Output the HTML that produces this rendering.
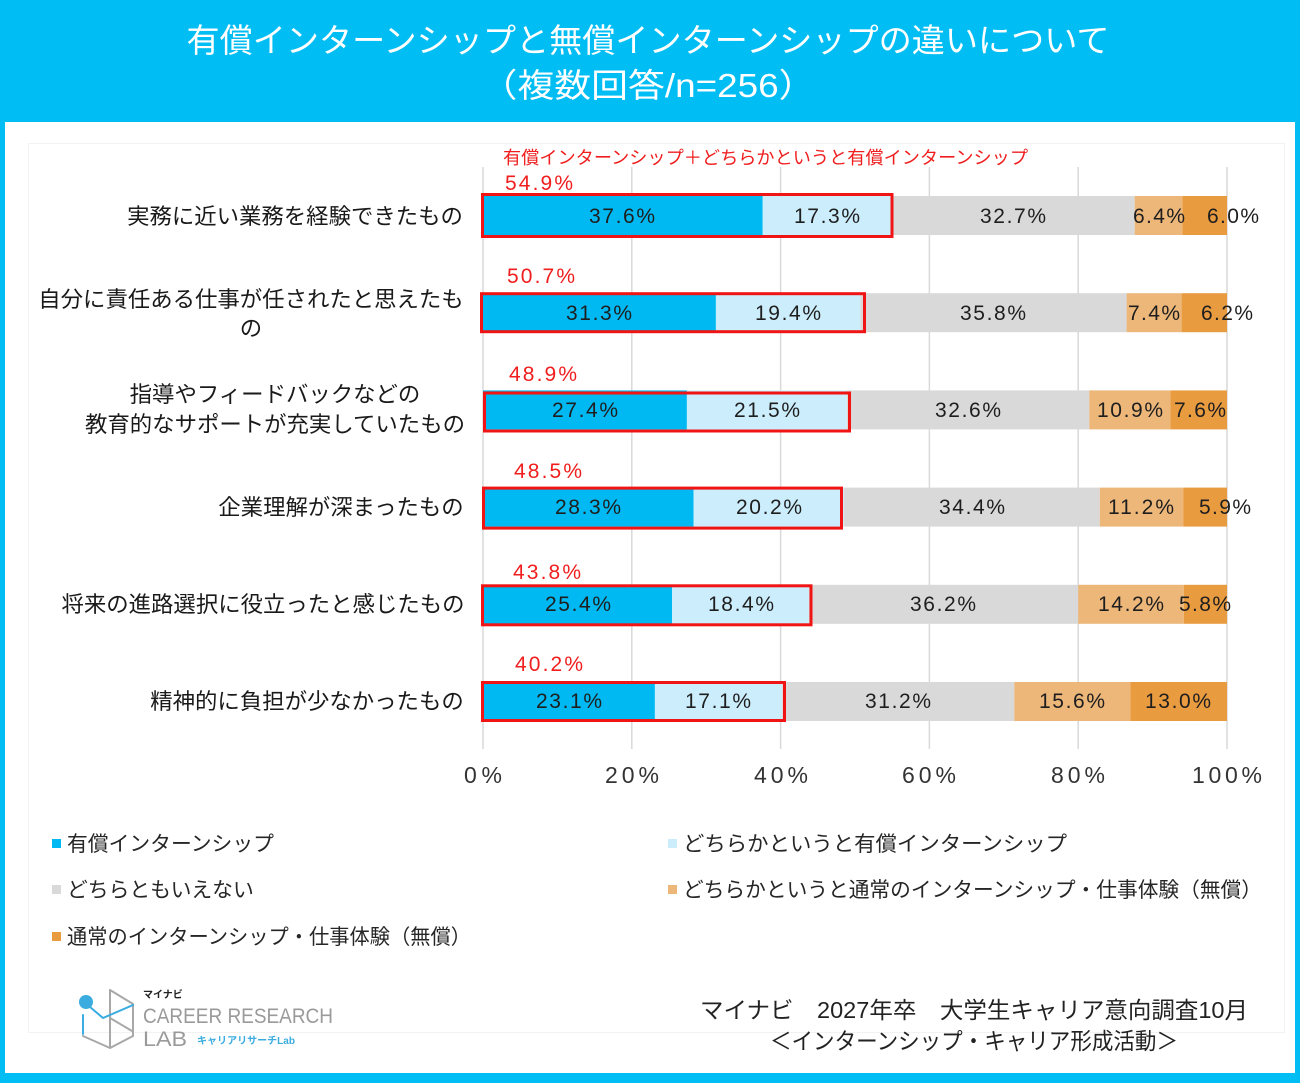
<!DOCTYPE html>
<html><head><meta charset="utf-8">
<style>
html,body{margin:0;padding:0;}
body{width:1300px;height:1083px;overflow:hidden;background:#00BDF2;position:relative;}
svg{position:absolute;left:0;top:0;}
</style></head>
<body>
<svg width="1300" height="1083" viewBox="0 0 1300 1083" xmlns="http://www.w3.org/2000/svg">
<rect x="0" y="0" width="1300" height="1083" fill="#00BDF4"/>
<rect x="5" y="122" width="1290" height="951" fill="#FFFFFF"/>
<rect x="28.5" y="143.5" width="1256" height="889" fill="none" stroke="#F2F2F2" stroke-width="1"/>

<!-- Title -->
<g font-family="'Liberation Sans','Noto Sans CJK JP',sans-serif" fill="#FFFFFF" text-anchor="middle" font-size="33">
<text x="648" y="52" textLength="923" lengthAdjust="spacingAndGlyphs">有償インターンシップと無償インターンシップの違いについて</text>
<text x="648" y="97" textLength="335" lengthAdjust="spacingAndGlyphs">（複数回答/n=256）</text>
</g>

<!-- gridlines -->
<g stroke="#D9D9D9" stroke-width="1.5">
<line x1="483" y1="167" x2="483" y2="749"/>
<line x1="631.8" y1="167" x2="631.8" y2="749"/>
<line x1="780.6" y1="167" x2="780.6" y2="749"/>
<line x1="929.4" y1="167" x2="929.4" y2="749"/>
<line x1="1078.2" y1="167" x2="1078.2" y2="749"/>
<line x1="1227" y1="167" x2="1227" y2="749"/>
</g>

<!-- red annotation -->
<text x="503" y="164" font-family="'Liberation Sans','Noto Sans CJK JP',sans-serif" font-size="18" fill="#F01E1E" textLength="525" lengthAdjust="spacingAndGlyphs">有償インターンシップ＋どちらかというと有償インターンシップ</text>

<!-- Bars -->
<g>
<rect x="483" y="196" width="279.7" height="39" fill="#00B9F2"/>
<rect x="762.7" y="196" width="128.8" height="39" fill="#CCEEFC"/>
<rect x="891.5" y="196" width="243.2" height="39" fill="#D9D9D9"/>
<rect x="1134.7" y="196" width="47.7" height="39" fill="#EDB77A"/>
<rect x="1182.4" y="196" width="44.6" height="39" fill="#E99B40"/>
</g>
<g>
<rect x="483" y="293.2" width="232.9" height="39" fill="#00B9F2"/>
<rect x="715.9" y="293.2" width="144.3" height="39" fill="#CCEEFC"/>
<rect x="860.2" y="293.2" width="266.4" height="39" fill="#D9D9D9"/>
<rect x="1126.6" y="293.2" width="55" height="39" fill="#EDB77A"/>
<rect x="1181.6" y="293.2" width="45.4" height="39" fill="#E99B40"/>
</g>
<g>
<rect x="483" y="390.4" width="203.9" height="39" fill="#00B9F2"/>
<rect x="686.9" y="390.4" width="159.9" height="39" fill="#CCEEFC"/>
<rect x="846.8" y="390.4" width="242.5" height="39" fill="#D9D9D9"/>
<rect x="1089.3" y="390.4" width="81.1" height="39" fill="#EDB77A"/>
<rect x="1170.4" y="390.4" width="56.6" height="39" fill="#E99B40"/>
</g>
<g>
<rect x="483" y="487.6" width="210.6" height="39" fill="#00B9F2"/>
<rect x="693.6" y="487.6" width="150.3" height="39" fill="#CCEEFC"/>
<rect x="843.9" y="487.6" width="255.9" height="39" fill="#D9D9D9"/>
<rect x="1099.8" y="487.6" width="83.4" height="39" fill="#EDB77A"/>
<rect x="1183.2" y="487.6" width="43.8" height="39" fill="#E99B40"/>
</g>
<g>
<rect x="483" y="584.8" width="189" height="39" fill="#00B9F2"/>
<rect x="672" y="584.8" width="136.9" height="39" fill="#CCEEFC"/>
<rect x="808.9" y="584.8" width="269.3" height="39" fill="#D9D9D9"/>
<rect x="1078.2" y="584.8" width="105.7" height="39" fill="#EDB77A"/>
<rect x="1183.9" y="584.8" width="43.1" height="39" fill="#E99B40"/>
</g>
<g>
<rect x="483" y="682" width="171.9" height="39" fill="#00B9F2"/>
<rect x="654.9" y="682" width="127.2" height="39" fill="#CCEEFC"/>
<rect x="782.1" y="682" width="232.2" height="39" fill="#D9D9D9"/>
<rect x="1014.3" y="682" width="116.1" height="39" fill="#EDB77A"/>
<rect x="1130.4" y="682" width="96.6" height="39" fill="#E99B40"/>
</g>

<!-- Red boxes -->
<g fill="none" stroke="#F01414" stroke-width="3">
<rect x="482.5" y="194.5" width="409.5" height="42"/>
<rect x="481.5" y="293.7" width="383" height="38"/>
<rect x="484.5" y="393" width="365" height="38"/>
<rect x="483.5" y="488.1" width="358" height="40"/>
<rect x="482.5" y="585.8" width="328.5" height="39"/>
<rect x="482.5" y="682.5" width="302" height="38"/>
</g>

<!-- Data labels -->
<g font-family="'Liberation Sans',sans-serif" font-size="21" fill="#1E1E1E" text-anchor="middle">
<text x="622" y="223" textLength="66" lengthAdjust="spacing">37.6%</text>
<text x="827" y="223" textLength="66" lengthAdjust="spacing">17.3%</text>
<text x="1013" y="223" textLength="66" lengthAdjust="spacing">32.7%</text>
<text x="1159" y="223" textLength="52" lengthAdjust="spacing">6.4%</text>
<text x="1233" y="223" textLength="52" lengthAdjust="spacing">6.0%</text>

<text x="599" y="320" textLength="66" lengthAdjust="spacing">31.3%</text>
<text x="788" y="320" textLength="66" lengthAdjust="spacing">19.4%</text>
<text x="993" y="320" textLength="66" lengthAdjust="spacing">35.8%</text>
<text x="1154" y="320" textLength="52" lengthAdjust="spacing">7.4%</text>
<text x="1227" y="320" textLength="52" lengthAdjust="spacing">6.2%</text>

<text x="585" y="417" textLength="66" lengthAdjust="spacing">27.4%</text>
<text x="767" y="417" textLength="66" lengthAdjust="spacing">21.5%</text>
<text x="968" y="417" textLength="66" lengthAdjust="spacing">32.6%</text>
<text x="1130" y="417" textLength="66" lengthAdjust="spacing">10.9%</text>
<text x="1200" y="417" textLength="52" lengthAdjust="spacing">7.6%</text>

<text x="588" y="514" textLength="66" lengthAdjust="spacing">28.3%</text>
<text x="769" y="514" textLength="66" lengthAdjust="spacing">20.2%</text>
<text x="972" y="514" textLength="66" lengthAdjust="spacing">34.4%</text>
<text x="1141" y="514" textLength="66" lengthAdjust="spacing">11.2%</text>
<text x="1225" y="514" textLength="52" lengthAdjust="spacing">5.9%</text>

<text x="578" y="611" textLength="66" lengthAdjust="spacing">25.4%</text>
<text x="741" y="611" textLength="66" lengthAdjust="spacing">18.4%</text>
<text x="943" y="611" textLength="66" lengthAdjust="spacing">36.2%</text>
<text x="1131" y="611" textLength="66" lengthAdjust="spacing">14.2%</text>
<text x="1205" y="611" textLength="52" lengthAdjust="spacing">5.8%</text>

<text x="569" y="708" textLength="66" lengthAdjust="spacing">23.1%</text>
<text x="718" y="708" textLength="66" lengthAdjust="spacing">17.1%</text>
<text x="898" y="708" textLength="66" lengthAdjust="spacing">31.2%</text>
<text x="1072" y="708" textLength="66" lengthAdjust="spacing">15.6%</text>
<text x="1178" y="708" textLength="66" lengthAdjust="spacing">13.0%</text>
</g>

<!-- Red totals -->
<g font-family="'Liberation Sans',sans-serif" font-size="21" fill="#F01E1E" text-anchor="middle">
<text x="539" y="190" textLength="68" lengthAdjust="spacing">54.9%</text>
<text x="541" y="283" textLength="68" lengthAdjust="spacing">50.7%</text>
<text x="543" y="381" textLength="68" lengthAdjust="spacing">48.9%</text>
<text x="548" y="478" textLength="68" lengthAdjust="spacing">48.5%</text>
<text x="547" y="579" textLength="68" lengthAdjust="spacing">43.8%</text>
<text x="549" y="671" textLength="68" lengthAdjust="spacing">40.2%</text>
</g>

<!-- Category labels -->
<g font-family="'Liberation Sans','Noto Sans CJK JP',sans-serif" font-size="22.4" fill="#1A1A1A" text-anchor="middle">
<text x="295" y="224">実務に近い業務を経験できたもの</text>
<text x="251" y="307">自分に責任ある仕事が任されたと思えたも</text>
<text x="251" y="336">の</text>
<text x="275" y="402">指導やフィードバックなどの</text>
<text x="275" y="432">教育的なサポートが充実していたもの</text>
<text x="341" y="515">企業理解が深まったもの</text>
<text x="263" y="612">将来の進路選択に役立ったと感じたもの</text>
<text x="307" y="709">精神的に負担が少なかったもの</text>
</g>

<!-- Axis labels -->
<g font-family="'Liberation Sans',sans-serif" font-size="23" fill="#333333" text-anchor="middle">
<text x="483" y="783" textLength="38" lengthAdjust="spacing">0%</text>
<text x="632" y="783" textLength="54" lengthAdjust="spacing">20%</text>
<text x="781" y="783" textLength="54" lengthAdjust="spacing">40%</text>
<text x="929" y="783" textLength="54" lengthAdjust="spacing">60%</text>
<text x="1078" y="783" textLength="54" lengthAdjust="spacing">80%</text>
<text x="1227" y="783" textLength="70" lengthAdjust="spacing">100%</text>
</g>

<!-- Legend -->
<rect x="52" y="839" width="9" height="9" fill="#00B9F2"/>
<rect x="52" y="885" width="9" height="9" fill="#D9D9D9"/>
<rect x="52" y="932" width="9" height="9" fill="#E99B40"/>
<rect x="668" y="839" width="9" height="9" fill="#CCEEFC"/>
<rect x="668" y="885" width="9" height="9" fill="#EDB77A"/>
<g font-family="'Liberation Sans','Noto Sans CJK JP',sans-serif" font-size="20.8" fill="#262626">
<text x="67" y="851">有償インターンシップ</text>
<text x="67" y="897">どちらともいえない</text>
<text x="67" y="944" textLength="404" lengthAdjust="spacingAndGlyphs">通常のインターンシップ・仕事体験（無償）</text>
<text x="683" y="851" textLength="384" lengthAdjust="spacingAndGlyphs">どちらかというと有償インターンシップ</text>
<text x="683" y="897" textLength="579" lengthAdjust="spacingAndGlyphs">どちらかというと通常のインターンシップ・仕事体験（無償）</text>
</g>

<!-- Footer -->
<g font-family="'Liberation Sans','Noto Sans CJK JP',sans-serif" font-size="23" fill="#222222" text-anchor="middle">
<text x="974" y="1018" textLength="548" lengthAdjust="spacingAndGlyphs">マイナビ　2027年卒　大学生キャリア意向調査10月</text>
<text x="974" y="1049" textLength="408" lengthAdjust="spacingAndGlyphs">＜インターンシップ・キャリア形成活動＞</text>
</g>

<!-- Logo -->
<g fill="none" stroke-width="2" stroke-linejoin="round" stroke-linecap="round">
<polyline points="110,990 133,1004 133,1036 110,1048 83,1036" stroke="#A8A8A8"/>
<line x1="110" y1="990" x2="110" y2="1047" stroke="#A8A8A8"/>
<line x1="110" y1="1018" x2="132" y2="1031" stroke="#A8A8A8"/>
<polyline points="90,1007 103,1018 133,1005" stroke="#3AACE0"/>
<line x1="83" y1="1015" x2="83" y2="1034" stroke="#3AACE0"/>
</g>
<circle cx="86" cy="1002" r="7" fill="#3AACE0"/>
<text x="143" y="998" font-family="'Liberation Sans','Noto Sans CJK JP',sans-serif" font-size="10" font-weight="bold" fill="#222222">マイナビ</text>
<text x="143" y="1023" font-family="'Liberation Sans',sans-serif" font-size="21" fill="#9A9A9A" textLength="190" lengthAdjust="spacingAndGlyphs">CAREER RESEARCH</text>
<text x="143" y="1046" font-family="'Liberation Sans',sans-serif" font-size="21" fill="#9A9A9A" textLength="44" lengthAdjust="spacingAndGlyphs">LAB</text>
<text x="197" y="1044" font-family="'Liberation Sans','Noto Sans CJK JP',sans-serif" font-size="10" font-weight="bold" fill="#3AACE0" textLength="98" lengthAdjust="spacingAndGlyphs">キャリアリサーチLab</text>
</svg>
</body></html>
